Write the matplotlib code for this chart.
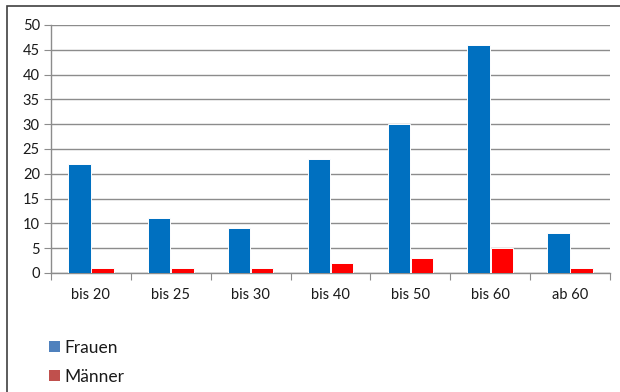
import matplotlib
matplotlib.use("Agg")
import matplotlib.pyplot as plt
from matplotlib.patches import Rectangle, Patch
import numpy as np

categories = ["bis 20", "bis 25", "bis 30", "bis 40", "bis 50", "bis 60", "ab 60"]
frauen = [22, 11, 9, 23, 30, 46, 8]
maenner = [1, 1, 1, 2, 3, 5, 1]
y_ticks = [0, 5, 10, 15, 20, 25, 30, 35, 40, 45, 50]

plt.rcParams["font.family"] = ["Lato", "DejaVu Sans"]

W, H = 620, 392
fig = plt.figure(figsize=(W / 100, H / 100), dpi=100)
fig.patch.set_facecolor("white")

# outer chart frame
fig.add_artist(Rectangle((7 / W, -0.05), 1.2, 1 - 6 / H + 0.05, transform=fig.transFigure,
                         fill=False, edgecolor="#404040", linewidth=1.2))

ax = fig.add_axes([51 / W, 1 - 273 / H, (610 - 51) / W, (273 - 25) / H])
x = np.arange(len(categories))
bw = 0.28
ax.bar(x - bw / 2 - 0.005, frauen, width=bw, color="#0070C0", edgecolor="white", linewidth=0.7, zorder=3)
ax.bar(x + bw / 2 + 0.005, maenner, width=bw, color="#FF0000", edgecolor="white", linewidth=0.7, zorder=3)

ax.set_xlim(-0.5, len(categories) - 0.5)
ax.set_ylim(0, 50)
ax.set_yticks(y_ticks)
ax.yaxis.grid(True, color="#8C8C8C", linewidth=1.0, zorder=0)
ax.set_axisbelow(True)

ax.set_xticks(np.arange(len(categories) + 1) - 0.5)
ax.set_xticklabels([])
ax.set_xticks(x, minor=True)
ax.set_xticklabels(categories, minor=True)
ax.tick_params(axis="x", which="major", length=5, color="#8C8C8C", direction="out")
ax.tick_params(axis="x", which="minor", length=0, pad=11, labelsize=10.5, labelcolor="#1a1a1a")
ax.tick_params(axis="y", length=5, color="#8C8C8C", labelsize=10.5, labelcolor="#1a1a1a", pad=3)

for s in ["top", "right"]:
    ax.spines[s].set_visible(False)
for s in ["left", "bottom"]:
    ax.spines[s].set_color("#8C8C8C")
    ax.spines[s].set_linewidth(1.0)

handles = [Patch(facecolor="#4F81BD", edgecolor="none"),
           Patch(facecolor="#C0504D", edgecolor="none")]
fig.legend(handles, ["Frauen", "Männer"], loc="upper left",
           bbox_to_anchor=(33 / W, 1 - 324 / H), frameon=False,
           handlelength=0.65, handleheight=0.65, handletextpad=0.25,
           labelspacing=0.75, fontsize=12.5, labelcolor="#1a1a1a")

fig.savefig("out.png", dpi=100)
